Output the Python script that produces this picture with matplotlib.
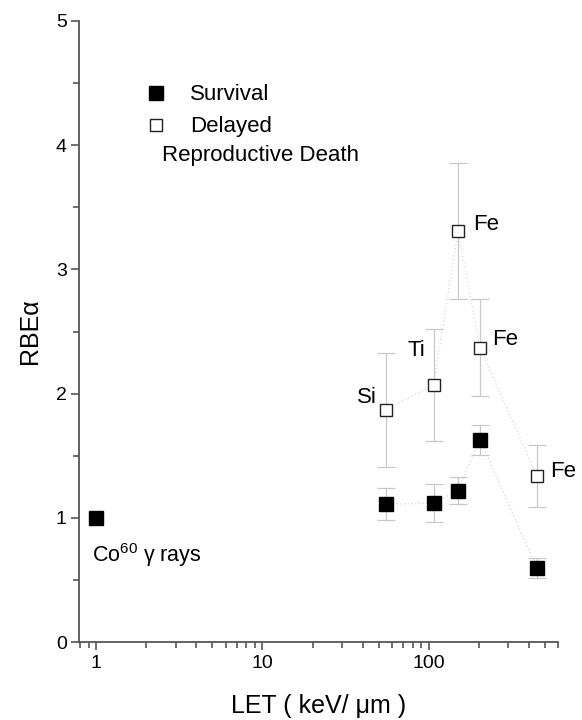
import numpy as np
import matplotlib.pyplot as plt
from matplotlib.ticker import MultipleLocator, FixedLocator, NullFormatter

plt.rcParams['font.family'] = ['Liberation Sans', 'DejaVu Sans']
plt.rcParams['mathtext.fontset'] = 'custom'
plt.rcParams['mathtext.rm'] = 'Liberation Sans'
plt.rcParams['mathtext.it'] = 'Liberation Sans'

# LET (keV/um) and RBE alpha values
co_let = [1.0]
co_rbe = [1.0]

ion_let = [55, 107, 150, 203, 447]
surv_rbe = [1.11, 1.12, 1.22, 1.63, 0.60]
surv_err = [0.13, 0.15, 0.11, 0.12, 0.08]

drd_rbe = [1.87, 2.07, 3.31, 2.37, 1.34]
drd_err = [0.46, 0.45, 0.55, 0.39, 0.25]

ion_names = ['Si', 'Ti', 'Fe', 'Fe', 'Fe']
name_pos = [(37, 1.97), (75, 2.35), (184, 3.36), (240, 2.44), (536, 1.37)]

fig = plt.figure(figsize=(5.82, 7.2), dpi=100)
ax = fig.add_axes([0.136, 0.108, 0.823, 0.863])

errc = '#c8c8c8'
ax.plot(ion_let, surv_rbe, ls=':', color='#dddddd', lw=1.0, zorder=1)
ax.plot(ion_let, drd_rbe, ls=':', color='#e0e0e0', lw=1.0, zorder=1)
ax.errorbar(ion_let, surv_rbe, yerr=surv_err, fmt='none', ecolor=errc,
            elinewidth=0.9, capsize=6.5, capthick=0.9, zorder=2)
ax.errorbar(ion_let, drd_rbe, yerr=drd_err, fmt='none', ecolor=errc,
            elinewidth=0.9, capsize=6.5, capthick=0.9, zorder=2)

ax.plot(co_let + ion_let, co_rbe + surv_rbe, ls='none', marker='s', ms=10,
        mfc='black', mec='black', zorder=3, label='Survival')
ax.plot(ion_let, drd_rbe, ls='none', marker='s', ms=9, mfc='white',
        mec='#222222', mew=1.0, zorder=3, label='Delayed')

for name, (x, y) in zip(ion_names, name_pos):
    ax.text(x, y, name, fontsize=16, ha='left', va='center')
ax.text(0.95, 0.70, 'Co$^{60}$ γ rays', fontsize=15.5, ha='left', va='center')

ax.set_xscale('log')
ax.set_xlim(0.79, 600)
ax.set_ylim(0, 5)

ax.yaxis.set_major_locator(MultipleLocator(1))
ax.yaxis.set_minor_locator(MultipleLocator(0.5))
ax.xaxis.set_major_locator(FixedLocator([1, 10, 100]))
ax.xaxis.set_major_formatter(plt.FuncFormatter(lambda v, p: f'{v:g}'))
ax.xaxis.set_minor_formatter(NullFormatter())

for s in ['top', 'right']:
    ax.spines[s].set_visible(False)
for s in ['left', 'bottom']:
    ax.spines[s].set_color('#555555')
    ax.spines[s].set_linewidth(1.3)
ax.tick_params(which='both', color='#555555', width=1.2, labelsize=14, pad=3)
ax.tick_params(which='major', length=6)
ax.tick_params(which='minor', length=4)

ax.set_xlabel('LET ( keV/ μm )', fontsize=18, labelpad=16)
ax.set_ylabel('RBEα', fontsize=18, labelpad=10)

ax.legend(loc='upper left', bbox_to_anchor=(0.09, 0.93), frameon=False,
          fontsize=16, handletextpad=0.95, labelspacing=0.5, handlelength=1.2)
ax.text(0.173, 0.784, 'Reproductive Death', transform=ax.transAxes, fontsize=16,
        ha='left', va='center')

fig.savefig('out.png', dpi=100)
